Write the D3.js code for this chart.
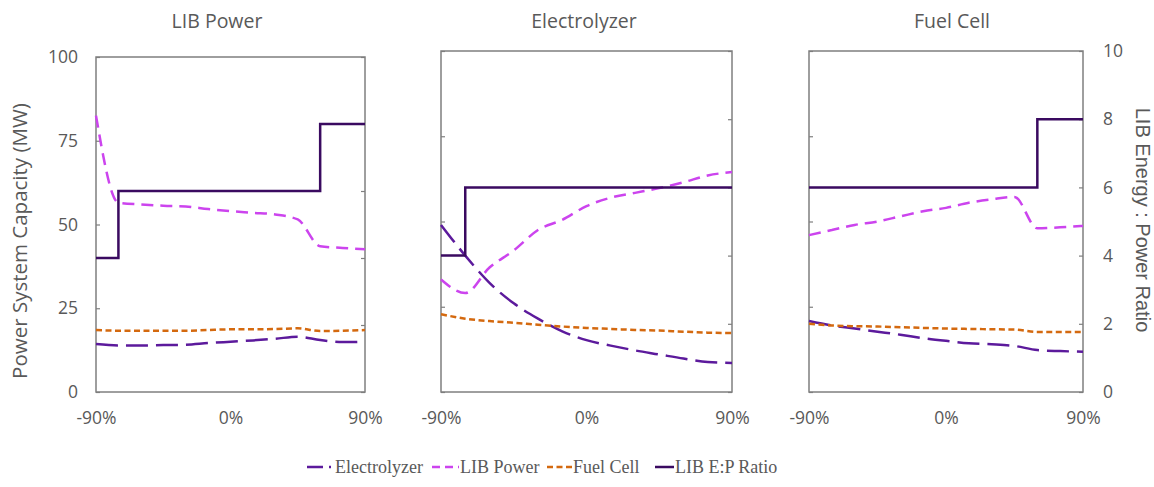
<!DOCTYPE html>
<html>
<head>
<meta charset="utf-8">
<script src="https://cdn.jsdelivr.net/npm/d3@7"></script>
<style>
  body { margin: 0; background: #fff; }
  svg { display: block; }
</style>
</head>
<body>
<svg id="chart" width="1154" height="487"></svg>
<script>
// x positions (scenario change, %)
var xValues = [-90, -75, -60, -45, -30, -15, 0, 15, 30, 45, 60, 75, 90];
var xTickValues = [-90, 0, 90];
var yTickValues = [0, 25, 50, 75, 100];
var ratioTickValues = [0, 2, 4, 6, 8, 10];

var panelTitles = ['LIB Power', 'Electrolyzer', 'Fuel Cell'];
var seriesNames = ['Electrolyzer', 'LIB Power', 'Fuel Cell', 'LIB E:P Ratio'];

// panel 1: LIB Power sensitivity
var electrolyzerP1 = [14.3, 13.9, 13.9, 14.0, 14.1, 14.6, 15.0, 15.4, 15.9, 16.5, 15.5, 14.9, 15.0];
var libPowerP1 = [82.5, 56.5, 56.0, 55.6, 55.4, 54.6, 54.0, 53.5, 53.0, 51.5, 43.5, 43.0, 42.6];
var fuelCellP1 = [18.5, 18.3, 18.3, 18.3, 18.3, 18.5, 18.7, 18.7, 18.8, 19.0, 18.2, 18.3, 18.5];
var ratioP1 = [4, 6, 6, 6, 6, 6, 6, 6, 6, 6, 8, 8, 8];

// panel 2: Electrolyzer sensitivity
var electrolyzerP2 = [49.0, 40.0, 32.0, 26.0, 21.5, 17.8, 15.2, 13.6, 12.2, 11.0, 9.8, 8.8, 8.5];
var libPowerP2 = [33.0, 29.0, 36.5, 41.5, 47.5, 50.5, 54.5, 57.0, 58.4, 59.8, 61.5, 63.5, 64.5];
var fuelCellP2 = [22.8, 21.5, 20.8, 20.3, 19.7, 19.2, 18.8, 18.5, 18.2, 18.0, 17.7, 17.4, 17.3];
var ratioP2 = [4, 6, 6, 6, 6, 6, 6, 6, 6, 6, 6, 6, 6];

// panel 3: Fuel Cell sensitivity
var electrolyzerP3 = [20.8, 19.5, 18.6, 17.7, 16.8, 15.8, 15.0, 14.3, 14.0, 13.5, 12.3, 12.0, 11.8];
var libPowerP3 = [46.0, 47.5, 49.0, 50.0, 51.5, 53.0, 54.0, 55.5, 56.5, 57.2, 48.0, 48.3, 48.7];
var fuelCellP3 = [20.0, 19.5, 19.3, 19.2, 19.0, 18.8, 18.6, 18.5, 18.4, 18.3, 17.6, 17.6, 17.6];
var ratioP3 = [6, 6, 6, 6, 6, 6, 6, 6, 6, 6, 8, 8, 8];

var panelData = [
  [electrolyzerP1, libPowerP1, fuelCellP1, ratioP1],
  [electrolyzerP2, libPowerP2, fuelCellP2, ratioP2],
  [electrolyzerP3, libPowerP3, fuelCellP3, ratioP3]
];

// layout
var boxes = [
  { left: 96, right: 365, top: 57, bottom: 392, titleX: 217 },
  { left: 441, right: 732, top: 51, bottom: 392, titleX: 584 },
  { left: 809, right: 1083, top: 51, bottom: 392, titleX: 952 }
];
var styles = [
  { color: '#5c1a9c', dash: '22,8' },
  { color: '#cc44ee', dash: '12,7' },
  { color: '#d4690f', dash: '6,3.5' },
  { color: '#3a0a60', dash: null }
];
var textColor = '#595959';
var axisColor = '#7f7f7f';
var sansFont = '"Open Sans", sans-serif';

var svg = d3.select('#chart');

boxes.forEach(function drawPanel(box, i) {
  var x = d3.scaleLinear().domain([-90, 90]).range([box.left, box.right]);
  var y = d3.scaleLinear().domain([0, 100]).range([box.bottom, box.top]);
  var yRatio = d3.scaleLinear().domain([0, 10]).range([box.bottom, box.top]);
  var g = svg.append('g').attr('class', 'panel');

  g.append('text')
    .attr('x', box.titleX)
    .attr('y', 28)
    .attr('text-anchor', 'middle')
    .attr('fill', textColor)
    .style('font-family', sansFont)
    .style('font-size', '19.5px')
    .text(panelTitles[i]);

  // left axis
  var leftAxis = d3.axisLeft(y).tickValues(yTickValues).tickSizeInner(-4).tickSizeOuter(0).tickPadding(18);
  var la = g.append('g').attr('transform', 'translate(' + box.left + ',0)').call(leftAxis);
  if (i !== 0) la.selectAll('text').remove();

  // right axis
  var rightAxis = d3.axisRight(yRatio).tickValues(ratioTickValues).tickSizeInner(-4).tickSizeOuter(0).tickPadding(20);
  var ra = g.append('g').attr('transform', 'translate(' + box.right + ',0)').call(rightAxis);
  if (i !== 2) ra.selectAll('text').remove();

  // bottom axis
  var bottomAxis = d3.axisBottom(x).tickValues(xTickValues).tickSize(0).tickPadding(20)
    .tickFormat(function(d) { return d + '%'; });
  var ba = g.append('g').attr('transform', 'translate(0,' + box.bottom + ')').call(bottomAxis);

  [la, ra, ba].forEach(function styleAxis(a) {
    a.select('.domain').remove();
    a.selectAll('line').attr('stroke', axisColor).attr('stroke-width', 1.2);
    a.selectAll('text')
      .attr('fill', textColor)
      .style('font-family', sansFont)
      .style('font-size', '17.5px');
  });

  g.append('rect')
    .attr('x', box.left)
    .attr('y', box.top)
    .attr('width', box.right - box.left)
    .attr('height', box.bottom - box.top)
    .attr('fill', 'none')
    .attr('stroke', axisColor)
    .attr('stroke-width', 1.5);

  var smooth = d3.line()
    .x(function(d) { return x(d[0]); })
    .y(function(d) { return y(d[1]); })
    .curve(d3.curveMonotoneX);
  var step = d3.line()
    .x(function(d) { return x(d[0]); })
    .y(function(d) { return yRatio(d[1]); })
    .curve(d3.curveStepAfter);

  panelData[i].forEach(function drawSeries(values, s) {
    var pts = xValues.map(function(xv, k) { return [xv, values[k]]; });
    var path = g.append('path')
      .attr('d', s === 3 ? step(pts) : smooth(pts))
      .attr('fill', 'none')
      .attr('stroke', styles[s].color)
      .attr('stroke-width', 2.5);
    if (styles[s].dash) path.attr('stroke-dasharray', styles[s].dash);
  });
});

// axis titles
svg.append('text')
  .attr('transform', 'translate(27,241) rotate(-90)')
  .attr('text-anchor', 'middle')
  .attr('fill', textColor)
  .style('font-family', sansFont)
  .style('font-size', '20.5px')
  .text('Power System Capacity (MW)');

svg.append('text')
  .attr('transform', 'translate(1136,220) rotate(90)')
  .attr('text-anchor', 'middle')
  .attr('fill', textColor)
  .style('font-family', '"Liberation Sans", Arial, sans-serif')
  .style('font-size', '20px')
  .text('LIB Energy : Power Ratio');

// legend
var legendX = [307, 432, 547, 655];
var legendTextX = [333, 460, 573, 675];
var legendDash = ['16,6,2,40', '8,5', '6,3.5', null];
var legendY = 467;
var legend = svg.append('g').attr('class', 'legend');
seriesNames.forEach(function drawLegendItem(name, s) {
  var line = legend.append('line')
    .attr('x1', legendX[s])
    .attr('x2', legendTextX[s] - 1)
    .attr('y1', legendY)
    .attr('y2', legendY)
    .attr('stroke', styles[s].color)
    .attr('stroke-width', 2.5);
  if (legendDash[s]) line.attr('stroke-dasharray', legendDash[s]);

  legend.append('text')
    .attr('x', legendTextX[s] + (s === 0 ? 2 : 0))
    .attr('y', legendY + 6)
    .attr('fill', textColor)
    .style('font-family', '"Liberation Serif", "Times New Roman", serif')
    .style('font-size', '18px')
    .text(name);
});
</script>
</body>
</html>
